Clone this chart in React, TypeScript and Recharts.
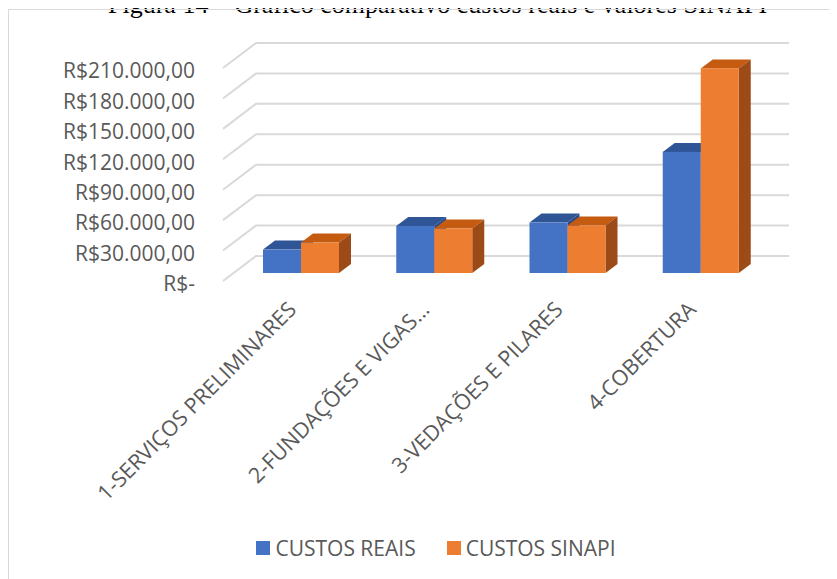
import React from 'react';
import { BarChart, Bar, XAxis, YAxis, CartesianGrid, Legend } from 'recharts';

// categorias e valores
const categorias = [
  '1-SERVIÇOS PRELIMINARES',
  '2-FUNDAÇÕES E VIGAS...',
  '3-VEDAÇÕES E PILARES',
  '4-COBERTURA',
];
const custosReais = [23100, 46400, 49700, 119400];
const custosSinapi = [30000, 43800, 46800, 201700];
const yTicks = [0, 30000, 60000, 90000, 120000, 150000, 180000, 210000];

const FONT = '"Open Sans", sans-serif';
const TEXT = '#595959';
const GRID = '#d9d9d9';

// deslocamentos da perspectiva 3D
const DEPTH_X = 12;
const DEPTH_Y = 9;

const data = categorias.map((nome, i) => ({
  nome,
  reais: custosReais[i],
  sinapi: custosSinapi[i],
}));

const series = [
  { key: 'reais', name: 'CUSTOS REAIS', front: '#4472C4', top: '#2F5597', side: '#284B87' },
  { key: 'sinapi', name: 'CUSTOS SINAPI', front: '#ED7D31', top: '#C55A11', side: '#9C4A17' },
];

const formatBRL = (v: number) => {
  if (v === 0) return 'R$-';
  const s = Math.round(v).toString().replace(/\B(?=(\d{3})+(?!\d))/g, '.');
  return `R$${s},00`;
};

const make3DBar = (front: string, top: string, side: string) => (props: any) => {
  const { x, y, width, height } = props;
  if (!height || height <= 0) return <g />;
  const r = x + width;
  const b = y + height;
  return (
    <g>
      <path
        d={`M${x},${y}L${x + DEPTH_X},${y - DEPTH_Y}L${r + DEPTH_X},${y - DEPTH_Y}L${r},${y}Z`}
        fill={top}
      />
      <path
        d={`M${r},${y}L${r + DEPTH_X},${y - DEPTH_Y}L${r + DEPTH_X},${b - DEPTH_Y}L${r},${b}Z`}
        fill={side}
      />
      <rect x={x} y={y} width={width} height={height} fill={front} />
    </g>
  );
};

// linha de grade com a parede do fundo e o piso inclinado
const gridLine = (props: any) => {
  const { x1, x2, y1, key } = props;
  return (
    <path
      key={key}
      d={`M${x1 - 11},${y1 + 8}L${x1 + 22},${y1 - 17}L${x2 + 22},${y1 - 17}`}
      stroke={GRID}
      strokeWidth={2}
      fill="none"
    />
  );
};

const YTick = (props: any) => {
  const { x, y, payload } = props;
  return (
    <text x={x} y={y + 11} dy="0.35em" textAnchor="end" fill={TEXT} fontSize={21} fontFamily={FONT}>
      {formatBRL(payload.value)}
    </text>
  );
};

const XTick = (props: any) => {
  const { x, y, payload } = props;
  const tx = x - 3;
  const ty = y + 38;
  return (
    <text
      x={tx}
      y={ty}
      textAnchor="end"
      transform={`rotate(-45, ${tx}, ${ty})`}
      fill={TEXT}
      fontSize={21.5}
      fontFamily={FONT}
    >
      {payload.value}
    </text>
  );
};

const renderLegend = () => (
  <div
    style={{
      display: 'flex',
      justifyContent: 'center',
      alignItems: 'center',
      boxSizing: 'border-box',
      paddingLeft: 27,
      width: 829,
      height: 30,
      fontFamily: FONT,
      fontSize: 21,
      color: TEXT,
    }}
  >
    {series.map((s, i) => (
      <div key={s.key} style={{ display: 'flex', alignItems: 'center', marginRight: i === 0 ? 31 : 0 }}>
        <span style={{ width: 14, height: 14, background: s.front, marginRight: 5, display: 'inline-block' }} />
        <span>{s.name}</span>
      </div>
    ))}
  </div>
);

export default function App() {
  return (
    <div style={{ position: 'relative', width: 829, height: 571 }}>
      <div
        style={{
          position: 'absolute',
          top: -15.8,
          left: 100,
          whiteSpace: 'nowrap',
          fontFamily: '"Liberation Serif", "Times New Roman", serif',
          fontSize: 26,
          lineHeight: '26px',
          color: '#000',
        }}
      >
        Figura 14 – Gráfico comparativo custos reais e valores SINAPI
      </div>
      <div
        style={{
          position: 'absolute',
          top: 1,
          left: 0,
          width: 829,
          height: 570,
          boxSizing: 'border-box',
          borderTop: '1px solid #d9d9d9',
          borderLeft: '1px solid #d9d9d9',
        }}
      />
      <div style={{ position: 'absolute', top: 0, left: 0 }}>
        <BarChart
          width={829}
          height={571}
          data={data}
          margin={{ top: 52, right: 70, bottom: 16, left: 0 }}
          barGap={0}
          barSize={38}
        >
          <CartesianGrid vertical={false} horizontal={gridLine} />
          <XAxis
            dataKey="nome"
            axisLine={false}
            tickLine={false}
            tickSize={0}
            tickMargin={0}
            height={260}
            interval={0}
            tick={<XTick />}
          />
          <YAxis
            type="number"
            domain={[0, 210000]}
            ticks={yTicks}
            width={226}
            axisLine={false}
            tickLine={false}
            tickSize={0}
            tickMargin={39}
            tick={<YTick />}
          />
          <Legend
            verticalAlign="bottom"
            content={renderLegend}
            wrapperStyle={{ left: 0, width: 829 }}
          />
          {series.map((s) => (
            <Bar
              key={s.key}
              dataKey={s.key}
              name={s.name}
              fill={s.front}
              shape={make3DBar(s.front, s.top, s.side)}
              isAnimationActive={false}
            />
          ))}
        </BarChart>
      </div>
    </div>
  );
}
